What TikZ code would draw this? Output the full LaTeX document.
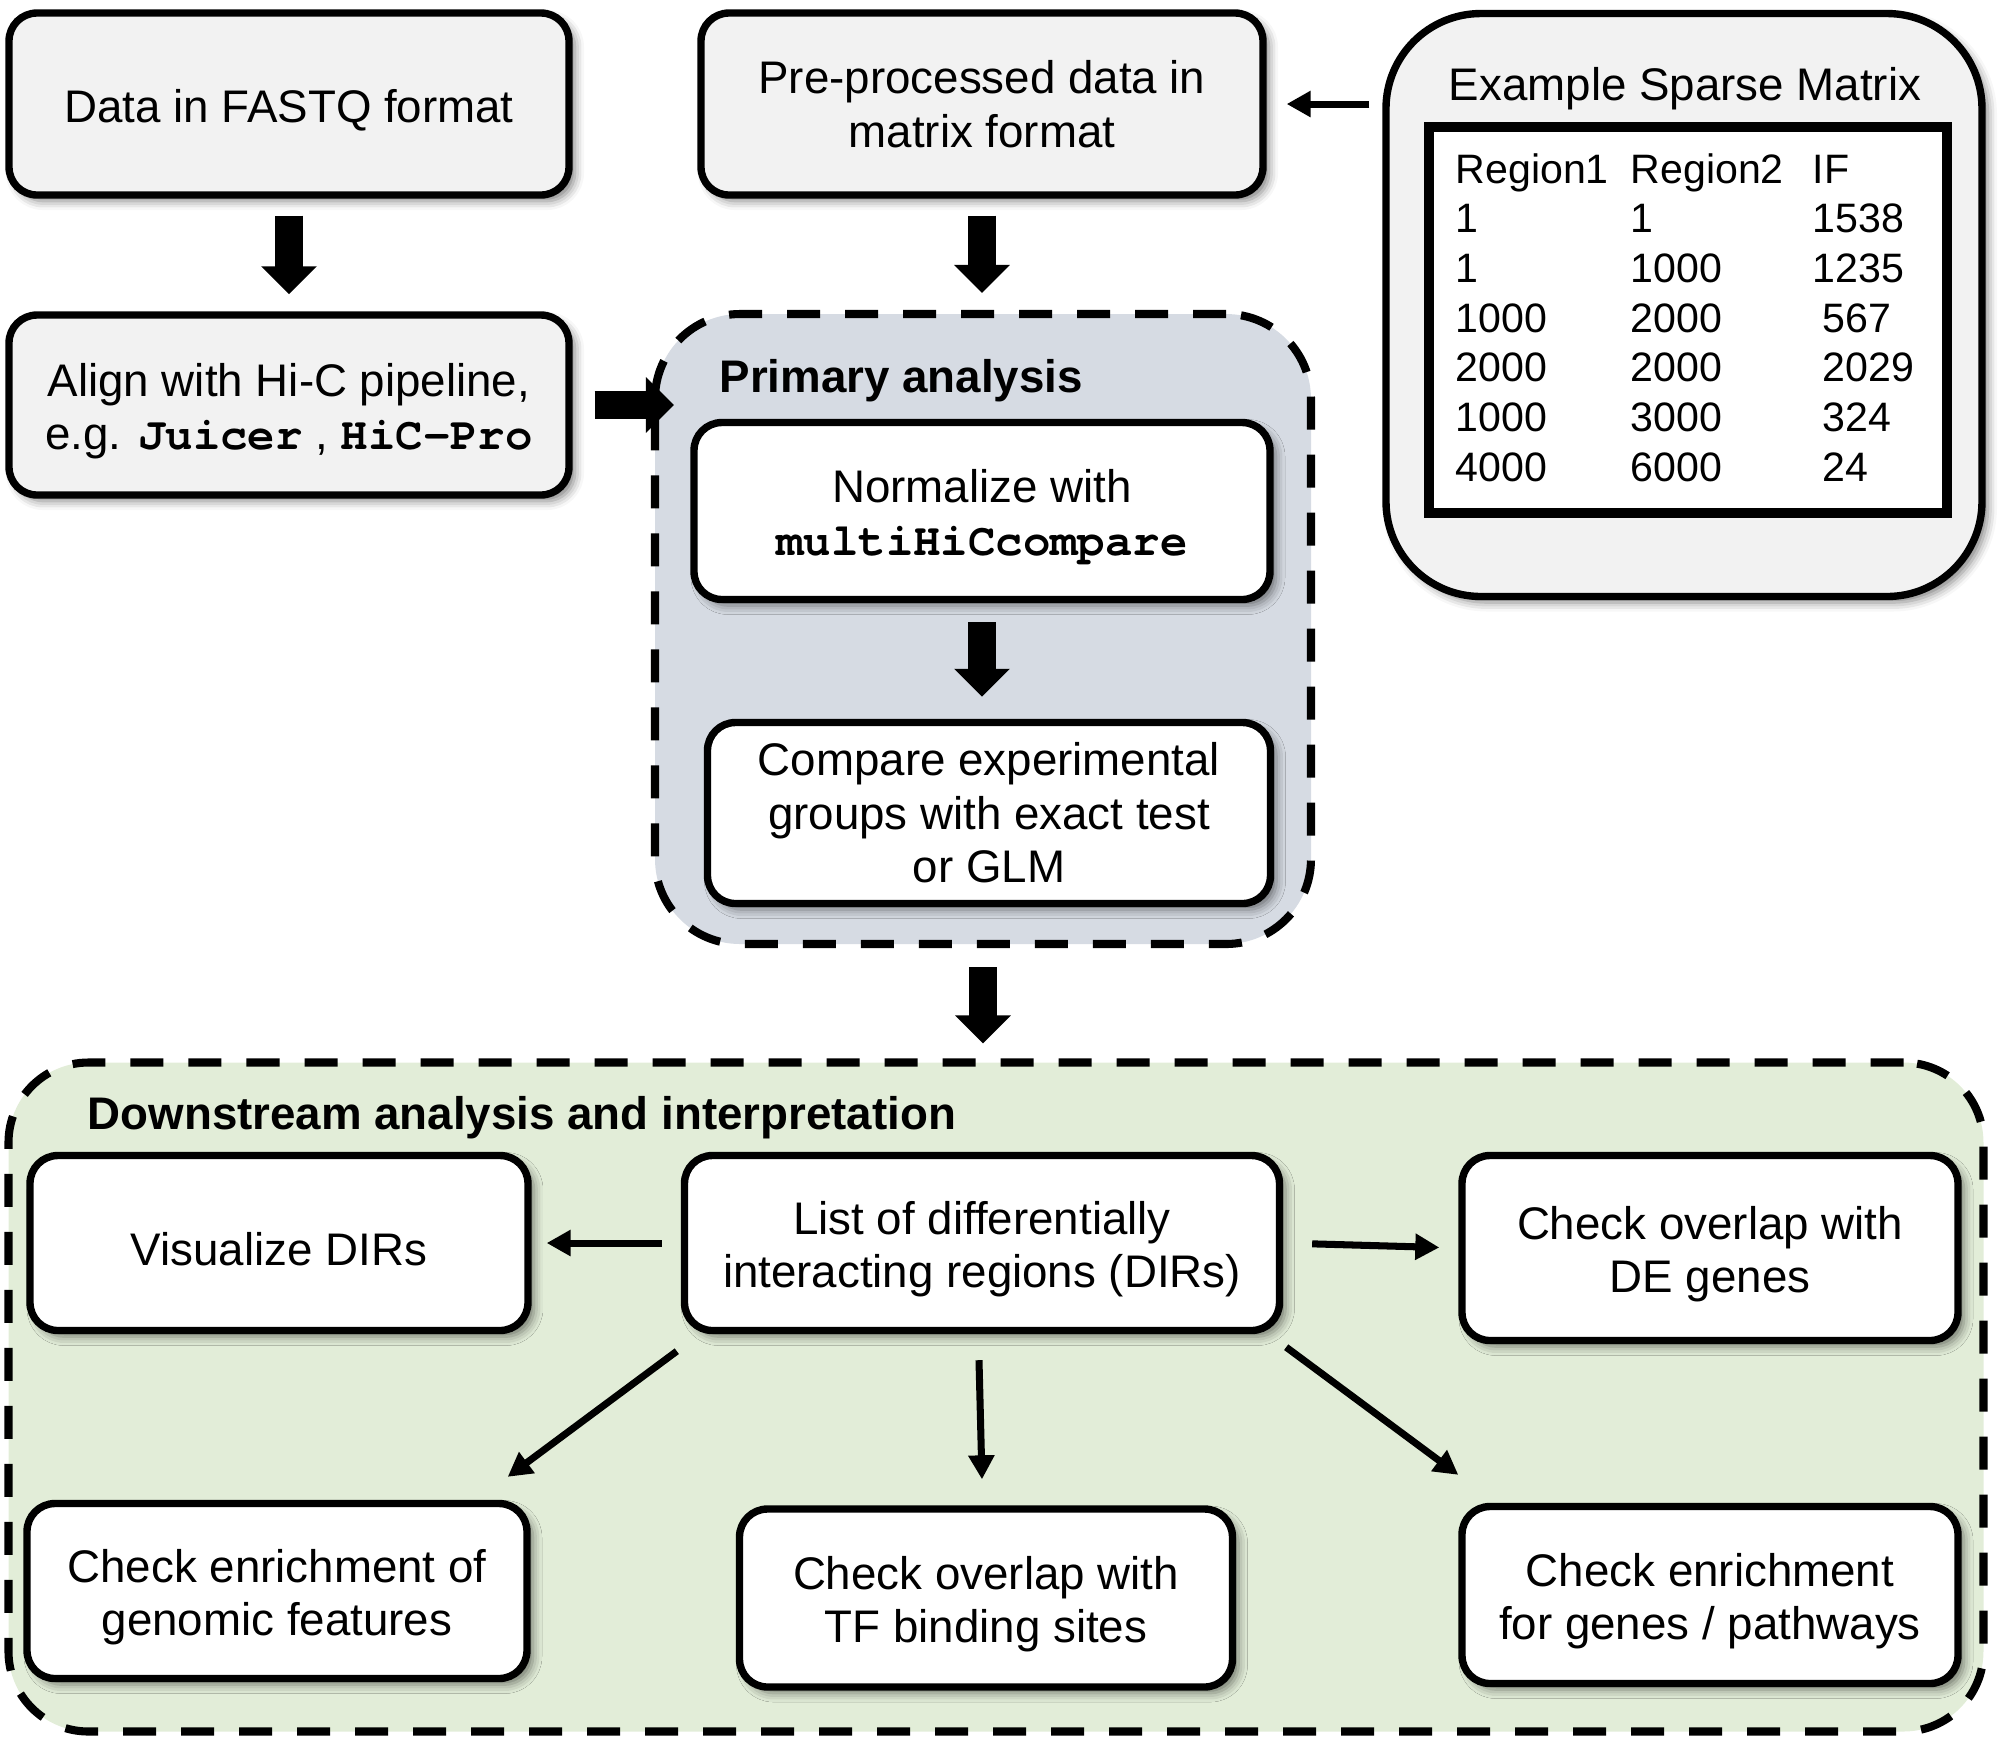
\documentclass[tikz,border=0pt]{standalone}
\usepackage{fontspec}
\setmainfont{Liberation Sans}
\setmonofont{texgyrecursor}[Extension=.otf, UprightFont=*-regular, BoldFont=*-bold]
\usetikzlibrary{arrows.meta,positioning,calc,shadows.blur}

\definecolor{boxgray}{HTML}{F2F2F2}
\definecolor{primfill}{HTML}{D6DBE3}
\definecolor{downfill}{HTML}{E2EDD8}
\newcommand{\prog}[1]{\texttt{\bfseries #1}}
\newcommand{\lift}{\rule{0pt}{12.9pt}}

\begin{document}
\begin{tikzpicture}[
    stepbox/.style={draw, line width=2.1pt, rounded corners=0.28cm, fill=boxgray, align=center,
        font=\fontsize{13}{15.2}\selectfont,
        blur shadow={shadow xshift=0.06cm, shadow yshift=-0.06cm, shadow blur radius=0.09cm, shadow opacity=50}},
    whitebox/.style={stepbox, fill=white},
    region/.style={draw, line width=2.3pt, dash pattern=on 0.33cm off 0.25cm},
    regionlabel/.style={font=\fontsize{13}{15.2}\selectfont\bfseries, anchor=base west, inner sep=0pt},
    cellnode/.style={font=\fontsize{11.7}{14}\selectfont, anchor=base west, inner sep=0pt},
    fatarrow/.style={line width=0.28cm, -{Triangle[length=0.28cm,width=0.54cm]}},
    thinarrow/.style={line width=2pt, -{Triangle[length=0.24cm,width=0.25cm]}}
]
\useasboundingbox (0,0) rectangle (19.99,-17.45);

% Dashed regions
\node[region, fill=primfill, rounded corners=0.85cm, minimum width=6.56cm, minimum height=6.30cm] (primary) at (9.83,-6.29) {};
\node[region, fill=downfill, rounded corners=0.8cm, minimum width=19.75cm, minimum height=6.69cm] (downstream) at (9.96,-13.97) {};
\node[regionlabel] (primlabel) at (7.19,-3.92) {Primary analysis};
\node[regionlabel] (downlabel) at (0.87,-11.29) {Downstream analysis and interpretation};

% Input boxes
\node[stepbox, minimum width=5.60cm, minimum height=1.82cm] (fastq) at (2.89,-1.04) {\lift Data in FASTQ format};
\node[stepbox, minimum width=5.62cm, minimum height=1.82cm] (preproc) at (9.82,-1.04) {Pre-processed data in\\matrix format};
\node[stepbox, minimum width=5.60cm, minimum height=1.80cm] (align) at (2.89,-4.05) {\lift Align with Hi-C pipeline,\\e.g. \prog{Juicer} , \prog{HiC-Pro}};

% Sparse matrix example
\node[stepbox, rounded corners=0.95cm, minimum width=5.96cm, minimum height=5.83cm] (sparse) at (16.84,-3.05) {};
\node[draw, line width=2.6pt, fill=white, minimum width=5.18cm, minimum height=3.86cm] (table) at (16.88,-3.20) {};
\node[font=\fontsize{13}{15.2}\selectfont, anchor=base] (sparsetitle) at (16.85,-1.00) {Example Sparse Matrix};
\foreach \ra/\rb/\rc/\cx [count=\i from 0] in {Region1/Region2/IF/18.12, 1/1/1538/18.12, 1/1000/1235/18.12,
    1000/2000/567/18.22, 2000/2000/2029/18.22, 1000/3000/324/18.22, 4000/6000/24/18.22} {
    \node[cellnode] (cell-\i-a) at (14.55,-1.83-0.497*\i) {\ra};
    \node[cellnode] (cell-\i-b) at (16.30,-1.83-0.497*\i) {\rb};
    \node[cellnode] (cell-\i-c) at (\cx,-1.83-0.497*\i) {\rc};
}

% Primary analysis steps
\node[whitebox, minimum width=5.76cm, minimum height=1.77cm] (normalize) at (9.82,-5.11) {\lift Normalize with\\\prog{multiHiCcompare}};
\node[whitebox, minimum width=5.63cm, minimum height=1.81cm] (compare) at (9.89,-8.13) {Compare experimental\\groups with exact test\\or GLM};

% Downstream steps
\node[whitebox, minimum width=4.98cm, minimum height=1.75cm] (visualize) at (2.79,-12.43) {\lift Visualize DIRs};
\node[whitebox, minimum width=5.95cm, minimum height=1.75cm] (list) at (9.82,-12.43) {\lift List of differentially\\interacting regions (DIRs)};
\node[whitebox, minimum width=4.96cm, minimum height=1.85cm] (degenes) at (17.10,-12.48) {\lift Check overlap with\\DE genes};
\node[whitebox, minimum width=5.00cm, minimum height=1.75cm] (genomic) at (2.77,-15.91) {\lift Check enrichment of\\genomic features};
\node[whitebox, minimum width=4.93cm, minimum height=1.78cm] (tfsites) at (9.86,-15.98) {\lift Check overlap with\\TF binding sites};
\node[whitebox, minimum width=4.96cm, minimum height=1.77cm] (pathways) at (17.10,-15.95) {\lift Check enrichment\\for genes / pathways};

% Block arrows
\draw[fatarrow, shorten <=0.17cm, shorten >=0.17cm] (fastq.south) -- (align.north);
\draw[fatarrow, shorten <=0.17cm, shorten >=0.17cm] (preproc.south) -- (preproc.south |- primary.north);
\draw[fatarrow, shorten <=0.22cm, shorten >=-0.23cm] (align.east) -- (align.east -| primary.west);
\draw[fatarrow, shorten <=0.19cm, shorten >=0.22cm] (normalize.south) -- (normalize.south |- compare.north);
\draw[fatarrow, shorten <=0.19cm, shorten >=0.15cm] (primary.south) -- (primary.south |- downstream.north);

% Thin arrows
\draw[thinarrow, shorten <=0.13cm, shorten >=0.2cm] (sparse.west |- preproc.east) -- (preproc.east);
\draw[thinarrow, shorten <=0.19cm, shorten >=0.15cm] (list.west) -- (visualize.east);
\draw[thinarrow, shorten <=0.29cm, shorten >=0.19cm] (list.east) -- (degenes.west);
\draw[thinarrow] ($(list.south west)+(-0.04,-0.17)$) -- ($(genomic.north east)+(-0.23,0.23)$);
\draw[thinarrow] ($(list.south)+(-0.03,-0.26)$) -- ($(tfsites.north)+(-0.04,0.26)$);
\draw[thinarrow] ($(list.south east)+(0.03,-0.13)$) -- ($(pathways.north west)+(0,0.28)$);

\end{tikzpicture}
\end{document}
